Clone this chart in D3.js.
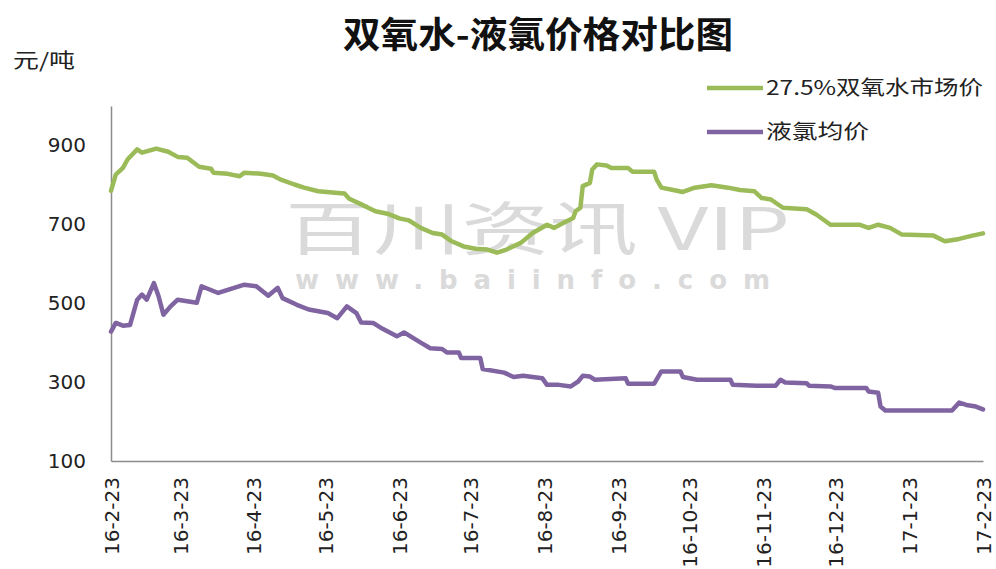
<!DOCTYPE html>
<html>
<head>
<meta charset="utf-8">
<script src="https://cdn.jsdelivr.net/npm/d3@7"></script>
<style>
  body { margin: 0; background: #fff; }
  svg { display: block; }
</style>
</head>
<body>
<svg id="drawing_region"></svg>
<script>
// 27.5%双氧水市场价 (date, 元/吨)
const h2o2Dates = ['2016-02-23','2016-02-25','2016-02-28','2016-03-01','2016-03-05','2016-03-07','2016-03-13','2016-03-18','2016-03-22','2016-03-26','2016-03-31','2016-04-05','2016-04-06','2016-04-12','2016-04-17','2016-04-19','2016-04-26','2016-05-01','2016-05-04','2016-05-10','2016-05-14','2016-05-20','2016-05-27','2016-05-31','2016-06-02','2016-06-08','2016-06-13','2016-06-18','2016-06-23','2016-06-27','2016-07-02','2016-07-07','2016-07-11','2016-07-15','2016-07-20','2016-07-25','2016-07-30','2016-08-03','2016-08-07','2016-08-13','2016-08-18','2016-08-24','2016-08-27','2016-08-31','2016-09-04','2016-09-05','2016-09-07','2016-09-08','2016-09-11','2016-09-12','2016-09-14','2016-09-18','2016-09-20','2016-09-27','2016-09-29','2016-10-08','2016-10-09','2016-10-11','2016-10-16','2016-10-20','2016-10-25','2016-11-01','2016-11-08','2016-11-13','2016-11-19','2016-11-22','2016-11-26','2016-12-01','2016-12-11','2016-12-15','2016-12-21','2017-01-02','2017-01-06','2017-01-10','2017-01-15','2017-01-20','2017-02-02','2017-02-07','2017-02-13','2017-02-19','2017-02-23'];
const h2o2Values = [785,826,843,865,890,882,892,884,871,869,846,841,831,828,822,831,828,824,814,801,793,784,780,778,765,748,733,727,715,710,691,678,674,657,644,638,636,628,636,653,678,699,691,704,716,733,742,797,805,839,852,849,843,843,833,833,814,793,787,782,793,799,793,787,784,767,763,742,738,725,699,699,691,699,691,674,672,657,663,672,677];

// 液氯均价 (date, 元/吨)
const chlorineDates = ['2016-02-23','2016-02-25','2016-02-28','2016-03-02','2016-03-05','2016-03-07','2016-03-09','2016-03-12','2016-03-14','2016-03-16','2016-03-19','2016-03-22','2016-03-30','2016-04-01','2016-04-08','2016-04-12','2016-04-19','2016-04-24','2016-04-29','2016-05-03','2016-05-05','2016-05-11','2016-05-16','2016-05-24','2016-05-28','2016-06-01','2016-06-05','2016-06-07','2016-06-12','2016-06-16','2016-06-22','2016-06-25','2016-07-02','2016-07-06','2016-07-11','2016-07-13','2016-07-18','2016-07-19','2016-07-27','2016-07-28','2016-08-06','2016-08-10','2016-08-14','2016-08-22','2016-08-24','2016-08-29','2016-09-03','2016-09-06','2016-09-08','2016-09-11','2016-09-13','2016-09-26','2016-09-27','2016-10-08','2016-10-11','2016-10-19','2016-10-20','2016-10-26','2016-11-09','2016-11-10','2016-11-20','2016-11-28','2016-11-30','2016-12-02','2016-12-11','2016-12-12','2016-12-21','2016-12-23','2017-01-05','2017-01-06','2017-01-10','2017-01-11','2017-01-13','2017-02-10','2017-02-13','2017-02-16','2017-02-20','2017-02-23'];
const chlorineValues = [428,450,443,445,509,522,509,551,517,471,492,509,501,543,526,534,547,543,519,539,513,496,484,475,462,492,475,451,450,435,416,426,400,386,384,375,375,361,361,333,324,313,316,310,293,293,289,301,316,314,306,310,296,296,327,327,313,306,306,293,291,291,306,299,297,291,289,285,285,276,273,238,228,228,248,242,238,231];

const seriesNames = ['27.5%双氧水市场价', '液氯均价'];
const seriesColors = ['#9bbb59', '#8064a2'];
const xTickLabels = ['16-2-23','16-3-23','16-4-23','16-5-23','16-6-23','16-7-23','16-8-23','16-9-23','16-10-23','16-11-23','16-12-23','17-1-23','17-2-23'];
const yTicks = [100, 300, 500, 700, 900];

const W = 996, H = 569;
const parse = d3.timeParse('%Y-%m-%d');
const parseTick = d3.timeParse('%y-%m-%d');
const fmtTick = d3.timeFormat('%y-%-m-%d');

const svg = d3.select('#drawing_region').attr('width', W).attr('height', H);
svg.append('rect').attr('width', W).attr('height', H).attr('fill', '#fff');

const x = d3.scaleTime()
  .domain([parse('2016-02-23'), parse('2017-02-23')])
  .range([111, 983]);
const y = d3.scaleLinear().domain([100, 1000]).range([461, 106]);

const cjk = '"Noto Sans CJK SC", "Noto Sans", sans-serif';
const num = '"DejaVu Sans", Verdana, sans-serif';

// watermark
svg.append('text')
  .attr('x', 285).attr('y', 250)
  .attr('textLength', 505).attr('lengthAdjust', 'spacingAndGlyphs')
  .style('font-family', cjk).style('font-size', '58px')
  .attr('fill', '#dadada')
  .text('百川资讯 VIP');
svg.append('text')
  .attr('x', 295).attr('y', 289)
  .attr('textLength', 475).attr('lengthAdjust', 'spacing')
  .style('font-family', '"DejaVu Sans", sans-serif').style('font-size', '26px').style('font-weight', 'bold')
  .attr('fill', '#dadada')
  .text('www.baiinfo.com');

// axes
const xAxis = svg.append('g')
  .attr('transform', `translate(0,461)`)
  .call(d3.axisBottom(x)
    .tickValues(xTickLabels.map(s => parseTick(s)))
    .tickFormat(fmtTick)
    .tickSize(0).tickSizeOuter(0));
xAxis.select('.domain').attr('stroke', '#8c8c8c').attr('stroke-width', 1.5);
xAxis.selectAll('text')
  .attr('transform', 'rotate(-90)')
  .attr('text-anchor', 'end')
  .attr('x', -16).attr('y', 0).attr('dy', '0.35em')
  .style('font-family', num).style('font-size', '20px').attr('fill', '#222');

const yAxis = svg.append('g')
  .attr('transform', `translate(111,0)`)
  .call(d3.axisLeft(y).tickValues(yTicks).tickSize(0).tickSizeOuter(0).tickPadding(25));
yAxis.select('.domain').attr('stroke', '#8c8c8c').attr('stroke-width', 1.5);
yAxis.selectAll('text')
  .style('font-family', num).style('font-size', '20px').attr('fill', '#222');

// lines
const line = d3.line().x(d => x(d.date)).y(d => y(d.value));
const series = [
  h2o2Dates.map((d, i) => ({ date: parse(d), value: h2o2Values[i] })),
  chlorineDates.map((d, i) => ({ date: parse(d), value: chlorineValues[i] }))
];
series.forEach((s, i) => {
  svg.append('path')
    .datum(s)
    .attr('fill', 'none')
    .attr('stroke', seriesColors[i])
    .attr('stroke-width', 4.5)
    .attr('stroke-linejoin', 'round')
    .attr('stroke-linecap', 'round')
    .attr('d', line);
});

// title
svg.append('text')
  .attr('x', 343).attr('y', 48)
  .attr('textLength', 390).attr('lengthAdjust', 'spacingAndGlyphs')
  .style('font-family', cjk).style('font-size', '36px').style('font-weight', 'bold')
  .attr('fill', '#111')
  .text('双氧水-液氯价格对比图');

// unit
svg.append('text')
  .attr('x', 13).attr('y', 68)
  .attr('textLength', 62).attr('lengthAdjust', 'spacingAndGlyphs')
  .style('font-family', cjk).style('font-size', '20px')
  .attr('fill', '#222')
  .text('元/吨');

// legend
const legendY = [88, 132];
const legendW = [217, 103];
seriesNames.forEach((name, i) => {
  svg.append('line')
    .attr('x1', 707).attr('x2', 763)
    .attr('y1', legendY[i]).attr('y2', legendY[i])
    .attr('stroke', seriesColors[i]).attr('stroke-width', 4.5);
  svg.append('text')
    .attr('x', 766).attr('y', legendY[i] + 7)
    .attr('textLength', legendW[i]).attr('lengthAdjust', 'spacingAndGlyphs')
    .style('font-family', cjk).style('font-size', '20px')
    .attr('fill', '#222')
    .text(name);
});
</script>
</body>
</html>
